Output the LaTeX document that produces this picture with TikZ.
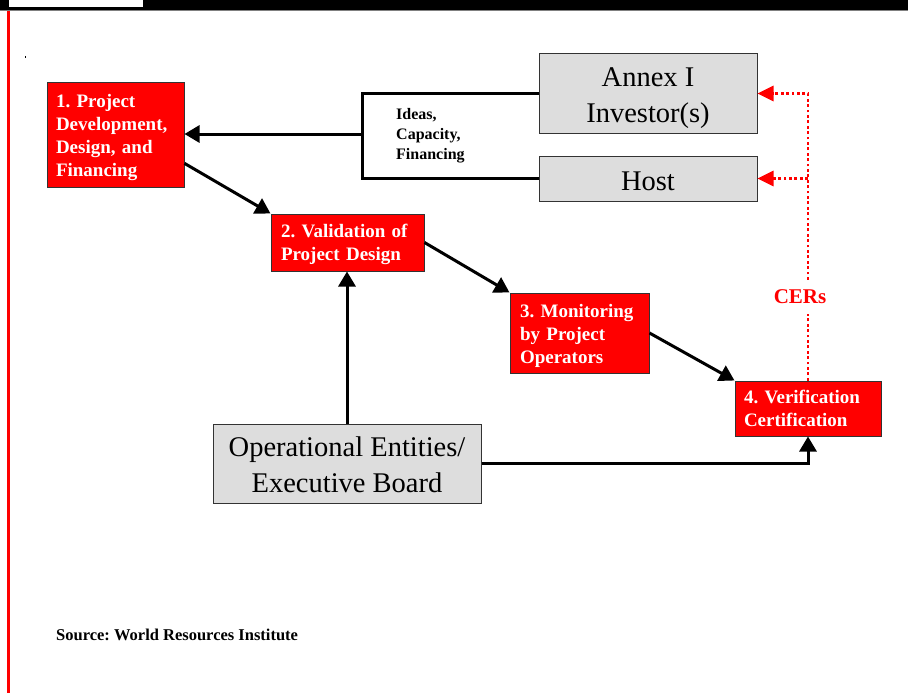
\documentclass[tikz,border=0pt]{standalone}
\usepackage{fontspec}
\setmainfont{Liberation Serif}
\usetikzlibrary{arrows.meta,calc}
\definecolor{boxred}{HTML}{FF0000}
\definecolor{boxgrey}{HTML}{DDDDDD}
\definecolor{edgegrey}{HTML}{333333}
\frenchspacing
\newcommand{\lift}[1]{\rule{0pt}{#1}}
\begin{document}
\begin{tikzpicture}[x=1pt,y=-1pt,
  redbox/.style={draw=edgegrey, line width=1pt, fill=boxred, text=white,
    font=\fontsize{19}{23}\selectfont\bfseries, align=left, inner xsep=9pt, inner ysep=0pt},
  greybox/.style={draw=edgegrey, line width=1pt, fill=boxgrey,
    font=\fontsize{28.5}{36}\selectfont, align=center, inner sep=0pt},
  arr/.style={line width=3pt, -{Triangle[length=15pt,width=17pt]}},
  cer/.style={draw=red, line width=2.8pt, dash pattern=on 2.8pt off 2.6pt, line cap=butt},
  cerarr/.style={cer, -{Triangle[length=16pt,width=15pt]}},
  lbl/.style={inner sep=0pt, align=left}
]
\useasboundingbox (0,0) rectangle (908,693);
% frame decorations
\fill[black] (0,0) rectangle (908,10);
\fill[white] (9,0) rectangle (143,7);
\draw[gray, line width=1pt] (0,10.5) -- (908,10.5);
\draw[red, line width=2.5pt] (8.3,11) -- (8.3,693);
\draw[line width=0.8pt] (25.5,56) -- (25.5,58.5);

% nodes
\node[redbox, text width=119pt, minimum height=104pt] (b1) at (115.5,135)
  {\lift{19pt}1. Project\\Development,\\Design, and\\Financing};
\node[redbox, inner xsep=10pt, text width=133pt, minimum height=57pt] (b2) at (347.5,242.5)
  {\lift{17pt}2. Validation of\\Project Design};
\node[redbox, inner xsep=10pt, text width=119pt, minimum height=80pt] (b3) at (579.5,333)
  {\lift{19pt}3. Monitoring\\by Project\\Operators};
\node[redbox, text width=128pt, minimum height=55pt] (b4) at (808,408.5)
  {4. Verification\\Certification};
\node[greybox, minimum width=218pt, minimum height=79pt] (annex) at (648,93.5)
  {\lift{29pt}Annex I\\Investor(s)};
\node[greybox, minimum width=218pt, minimum height=45pt] (host) at (648,178.5) {\lift{24pt}Host};
\node[greybox, minimum width=268pt, minimum height=79pt] (ops) at (347,463.5)
  {\lift{22pt}Operational Entities/\\Executive Board};
\node[lbl, anchor=north west, font=\fontsize{16}{20}\selectfont\bfseries] (ideas) at (396,108)
  {Ideas,\\Capacity,\\Financing};
\node[lbl, anchor=base west, font=\fontsize{16.5}{20}\selectfont\bfseries] (src) at (56,640)
  {Source: World Resources Institute};
\node[text=red, font=\fontsize{21}{25}\selectfont\bfseries, inner xsep=0pt, inner ysep=10pt] (cers) at (800,297) {CERs};

% connectors
\coordinate (bmid) at (362,134);
\draw[line width=3pt] (annex.west) -| (bmid) |- (host.west);
\draw[arr] (bmid) -- (bmid -| b1.east);
\draw[arr] ($(b1.east)!0.54!(b1.south east)$) -- (b2.north west);
\draw[arr] (b2.east) -- (b3.north west);
\draw[arr] (b3.east) -- (b4.north west);
\draw[arr] (ops.north) -- (ops.north |- b2.south);
\draw[arr] (ops.east) -| (b4.south);

% CERs flow
\draw[cer] (b4.north) -- (b4.north |- cers.south);
\draw[cerarr] (b4.north |- cers.north) -- (b4.north |- annex.east) -- (annex.east);
\draw[cerarr] (b4.north |- host.east) -- (host.east);
\end{tikzpicture}
\end{document}
